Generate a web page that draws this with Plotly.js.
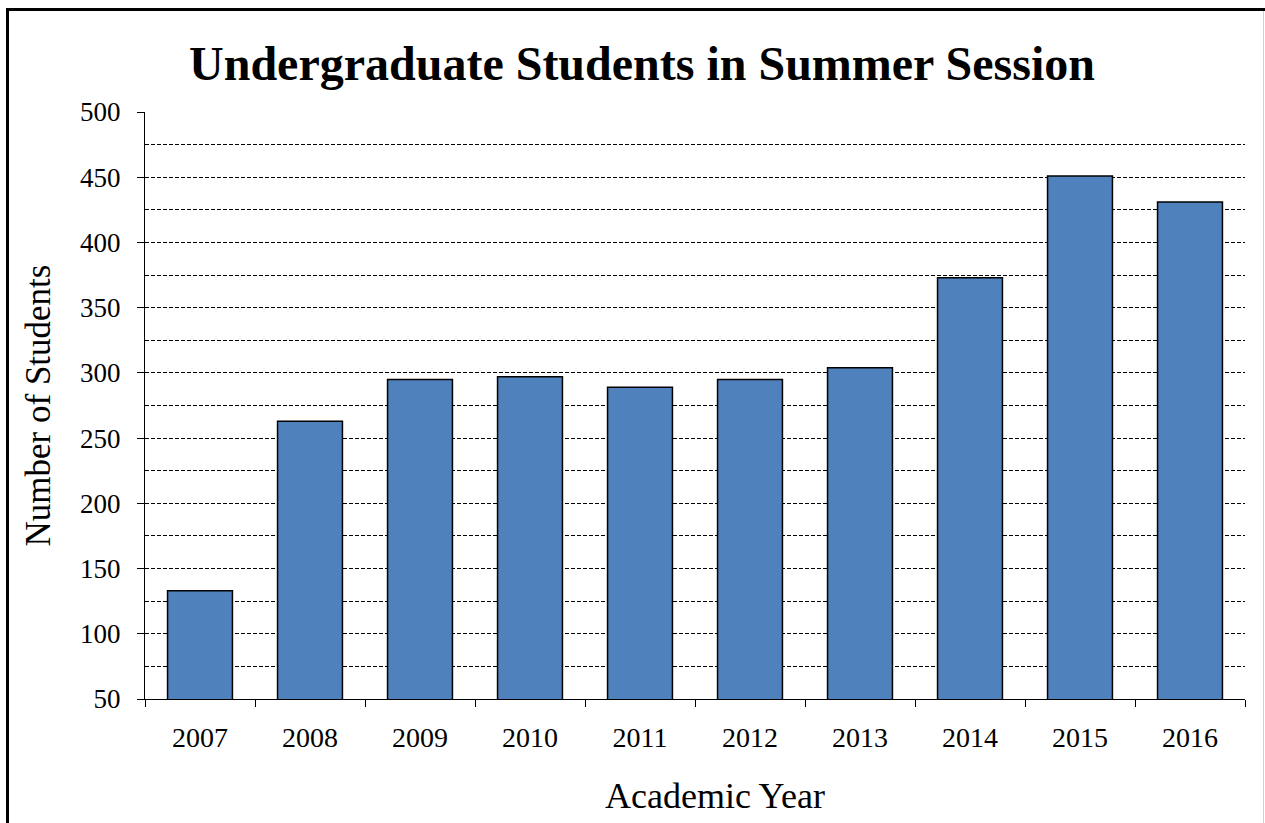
<!DOCTYPE html>
<html>
<head>
<meta charset="utf-8">
<script src="https://cdn.plot.ly/plotly-3.0.1.min.js"></script>
<style>
  html, body { margin: 0; padding: 0; background: #fff; overflow: hidden; }
  #chart { width: 1265px; height: 823px; }
  #frame { position: absolute; left: 6px; top: 8px; width: 1260px; height: 900px;
           border-top: 3px solid #000; border-left: 3px solid #000; pointer-events: none; }
  #edge { position: absolute; left: 1263px; top: 11px; width: 1px; height: 812px;
          background: #d0d0d0; pointer-events: none; }
</style>
</head>
<body>
<div id="chart"></div>
<div id="frame"></div>
<div id="edge"></div>
<script>
const years = ['2007', '2008', '2009', '2010', '2011', '2012', '2013', '2014', '2015', '2016'];
const students = [133, 263, 295, 297, 289, 295, 304, 373, 451, 431];
const yTicks = [50, 100, 150, 200, 250, 300, 350, 400, 450, 500];
const xTitle = 'Academic Year';
const yTitle = 'Number of Students';
const chartTitle = 'Undergraduate Students in Summer Session';

const serif = 'Liberation Serif, Times New Roman, serif';

const trace = {
  type: 'bar',
  x: years,
  y: students,
  marker: { color: '#4F81BD', line: { color: '#000000', width: 1.5 } },
  hoverinfo: 'x+y'
};

const layout = {
  width: 1265,
  height: 823,
  margin: { l: 145, r: 20, t: 112, b: 124 },
  paper_bgcolor: '#ffffff',
  plot_bgcolor: '#ffffff',
  showlegend: false,
  bargap: 0.41,
  font: { family: serif, color: '#000' },
  title: {
    text: '<b>' + chartTitle + '</b>',
    font: { family: serif, size: 48, color: '#000' },
    xref: 'container', x: 0.5075, xanchor: 'center',
    yref: 'container', y: 0.923, yanchor: 'middle'
  },
  xaxis: {
    type: 'category',
    showline: true, linecolor: '#000', linewidth: 1,
    ticks: 'outside', ticklen: 7, tickcolor: '#000', tickwidth: 1,
    tickson: 'boundaries',
    ticklabelstandoff: 13,
    tickfont: { family: serif, size: 28, color: '#000' },
    showgrid: false, zeroline: false
  },
  yaxis: {
    range: [50, 500],
    tickvals: yTicks,
    ticktext: yTicks.map(String),
    showline: true, linecolor: '#000', linewidth: 1,
    ticks: 'outside', ticklen: 7, tickcolor: '#000', tickwidth: 1,
    ticklabelstandoff: 11,
    tickfont: { family: serif, size: 27, color: '#000' },
    showgrid: true, gridcolor: '#000', gridwidth: 1, griddash: '4px,2px',
    minor: { dtick: 25, tick0: 0, showgrid: true, gridcolor: '#000', gridwidth: 1, griddash: '4px,2px', ticks: '' },
    zeroline: false,
    title: { text: yTitle, font: { family: serif, size: 35, color: '#000' }, standoff: 18 }
  },
  annotations: [{
    text: xTitle,
    xref: 'paper', x: 0.518, xanchor: 'center',
    yref: 'paper', y: -0.166, yanchor: 'middle',
    showarrow: false,
    font: { family: serif, size: 36, color: '#000' }
  }]
};

Plotly.newPlot('chart', [trace], layout, { displayModeBar: false, staticPlot: true });
</script>
</body>
</html>
